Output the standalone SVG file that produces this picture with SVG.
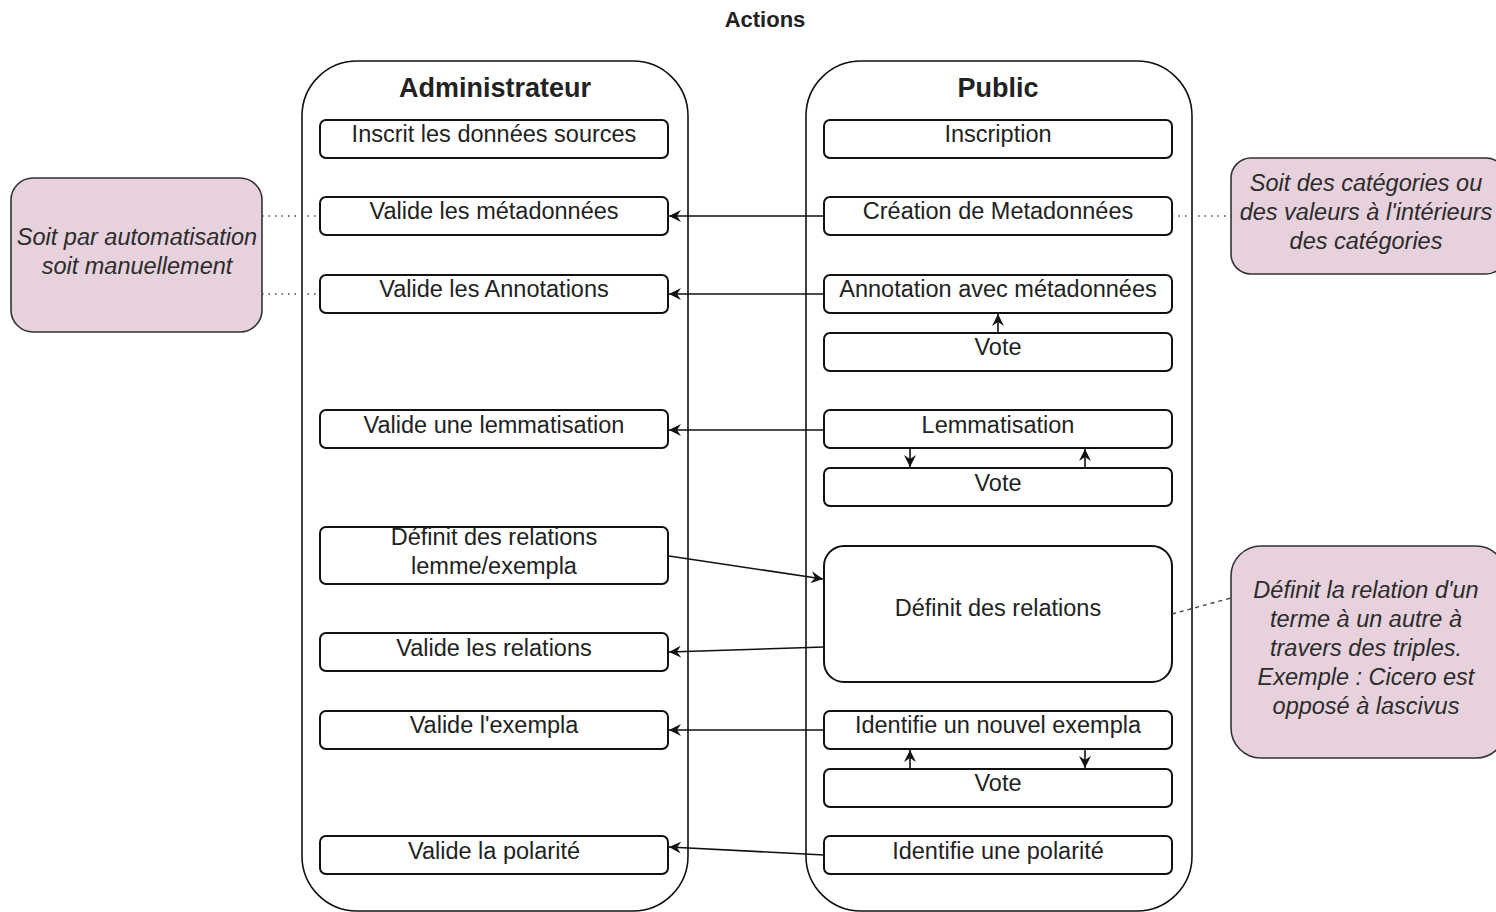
<svg xmlns="http://www.w3.org/2000/svg" width="1496" height="912" viewBox="0 0 1496 912">
<style>
text{font-family:"Liberation Sans",Arial,sans-serif;fill:#222;text-anchor:middle}
.lbl{font-size:23.5px}
.hdr{font-size:27px;font-weight:bold}
.ttl{font-size:22px;font-weight:bold}
.note-t{font-size:23.5px;font-style:italic;fill:#2b2b2b}
.lane{fill:#fff;stroke:#111;stroke-width:1.6}
.box{fill:#fff;stroke:#111;stroke-width:2}
.note{fill:#e6d1dd;stroke:#333;stroke-width:1.6}
.edge{fill:none;stroke:#111;stroke-width:1.6}
.dot{fill:none;stroke:#444;stroke-width:1.4;stroke-dasharray:1.5 5}
.dash{fill:none;stroke:#444;stroke-width:1.4;stroke-dasharray:4 4}
</style>
<defs>
<marker id="arr" markerUnits="userSpaceOnUse" markerWidth="14" markerHeight="12" refX="12" refY="6" orient="auto">
<path d="M0,0 L12,6 L0,12 L4,6 z" fill="#111"/>
</marker>
</defs>
<rect width="1496" height="912" fill="#fff"/>
<text class="ttl" x="765" y="27">Actions</text>

<g id="lane-admin">
<rect class="lane" x="302" y="61" width="386" height="850" rx="55" ry="55"/>
<text class="hdr" x="495" y="97">Administrateur</text>
</g>
<g id="lane-public">
<rect class="lane" x="806" y="61" width="386" height="850" rx="55" ry="55"/>
<text class="hdr" x="998" y="97">Public</text>
</g>

<g id="a-inscrit"><rect class="box" x="320" y="120" width="348" height="38" rx="6"/><text class="lbl" x="494" y="142">Inscrit les données sources</text></g>
<g id="a-meta"><rect class="box" x="320" y="197" width="348" height="38" rx="6"/><text class="lbl" x="494" y="219">Valide les métadonnées</text></g>
<g id="a-annot"><rect class="box" x="320" y="275" width="348" height="38" rx="6"/><text class="lbl" x="494" y="297">Valide les Annotations</text></g>
<g id="a-lemma"><rect class="box" x="320" y="410" width="348" height="38" rx="6"/><text class="lbl" x="494" y="433">Valide une lemmatisation</text></g>
<g id="a-deflemme"><rect class="box" x="320" y="527" width="348" height="57" rx="6"/><text class="lbl" x="494" y="545">Définit des relations</text><text class="lbl" x="494" y="574">lemme/exempla</text></g>
<g id="a-rel"><rect class="box" x="320" y="633" width="348" height="38" rx="6"/><text class="lbl" x="494" y="656">Valide les relations</text></g>
<g id="a-exempla"><rect class="box" x="320" y="711" width="348" height="38" rx="6"/><text class="lbl" x="494" y="733">Valide l'exempla</text></g>
<g id="a-polar"><rect class="box" x="320" y="836" width="348" height="38" rx="6"/><text class="lbl" x="494" y="859">Valide la polarité</text></g>

<g id="p-inscr"><rect class="box" x="824" y="120" width="348" height="38" rx="6"/><text class="lbl" x="998" y="142">Inscription</text></g>
<g id="p-meta"><rect class="box" x="824" y="197" width="348" height="38" rx="6"/><text class="lbl" x="998" y="219">Création de Metadonnées</text></g>
<g id="p-annot"><rect class="box" x="824" y="275" width="348" height="38" rx="6"/><text class="lbl" x="998" y="297">Annotation avec métadonnées</text></g>
<g id="p-vote1"><rect class="box" x="824" y="333" width="348" height="38" rx="6"/><text class="lbl" x="998" y="355">Vote</text></g>
<g id="p-lemma"><rect class="box" x="824" y="410" width="348" height="38" rx="6"/><text class="lbl" x="998" y="433">Lemmatisation</text></g>
<g id="p-vote2"><rect class="box" x="824" y="468" width="348" height="38" rx="6"/><text class="lbl" x="998" y="491">Vote</text></g>
<g id="p-rel"><rect class="box" x="824" y="546" width="348" height="136" rx="20"/><text class="lbl" x="998" y="616">Définit des relations</text></g>
<g id="p-exempla"><rect class="box" x="824" y="711" width="348" height="38" rx="6"/><text class="lbl" x="998" y="733">Identifie un nouvel exempla</text></g>
<g id="p-vote3"><rect class="box" x="824" y="769" width="348" height="38" rx="6"/><text class="lbl" x="998" y="791">Vote</text></g>
<g id="p-polar"><rect class="box" x="824" y="836" width="348" height="38" rx="6"/><text class="lbl" x="998" y="859">Identifie une polarité</text></g>

<g id="note-left"><rect class="note" x="11" y="178" width="251" height="154" rx="22"/><text class="note-t" x="137" y="245">Soit par automatisation</text><text class="note-t" x="137" y="274">soit manuellement</text></g>
<g id="note-cat"><rect class="note" x="1231" y="158" width="275" height="116" rx="20"/><text class="note-t" x="1366" y="191">Soit des catégories ou</text><text class="note-t" x="1366" y="220">des valeurs à l'intérieurs</text><text class="note-t" x="1366" y="249">des catégories</text></g>
<g id="note-rel"><rect class="note" x="1231" y="546" width="275" height="212" rx="30"/><text class="note-t" x="1366" y="598">Définit la relation d'un</text><text class="note-t" x="1366" y="627">terme à un autre à</text><text class="note-t" x="1366" y="656">travers des triples.</text><text class="note-t" x="1366" y="685">Exemple : Cicero est</text><text class="note-t" x="1366" y="714">opposé à lascivus</text></g>

<g id="connectors">
<path class="edge" d="M824,216 L669,216" marker-end="url(#arr)"/>
<path class="edge" d="M824,294 L669,294" marker-end="url(#arr)"/>
<path class="edge" d="M824,430 L669,430" marker-end="url(#arr)"/>
<path class="edge" d="M669,556 L823,579" marker-end="url(#arr)"/>
<path class="edge" d="M824,647 L669,652" marker-end="url(#arr)"/>
<path class="edge" d="M824,730 L669,730" marker-end="url(#arr)"/>
<path class="edge" d="M824,855 L669,847" marker-end="url(#arr)"/>
<path class="edge" d="M998,333 L998,314" marker-end="url(#arr)"/>
<path class="edge" d="M910,448 L910,467" marker-end="url(#arr)"/>
<path class="edge" d="M1085,468 L1085,449" marker-end="url(#arr)"/>
<path class="edge" d="M910,769 L910,750" marker-end="url(#arr)"/>
<path class="edge" d="M1085,749 L1085,768" marker-end="url(#arr)"/>
<path class="dot" d="M262,216 L320,216"/>
<path class="dot" d="M262,294 L320,294"/>
<path class="dot" d="M1172,216 L1231,216"/>
<path class="dash" d="M1172,614 L1231,598"/>
</g>
</svg>
